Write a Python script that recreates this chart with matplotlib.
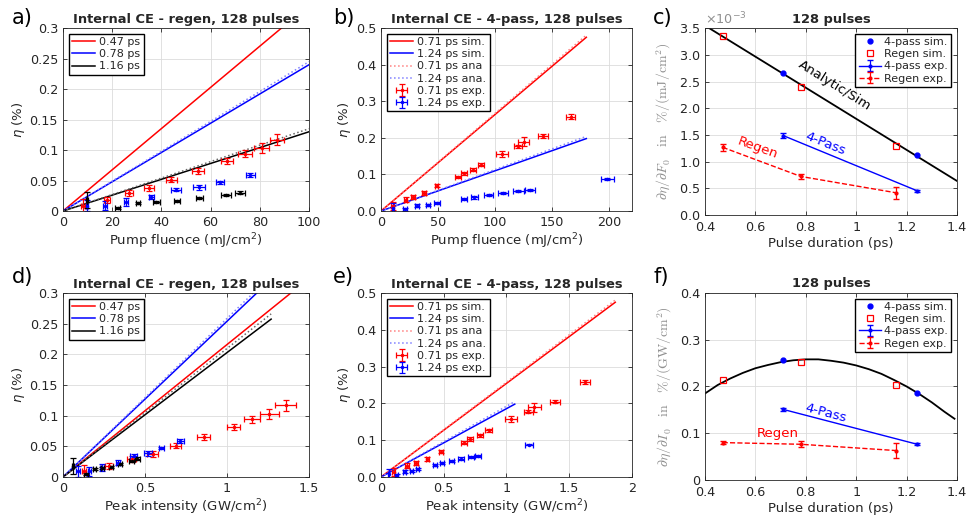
import matplotlib.pyplot as plt

# ---------------- a) regen, efficiency vs pump fluence
a_fit_x = [0, 100]
a_sim_047 = [0, 0.338]
a_sim_078 = [0, 0.240]
a_ana_078 = [0, 0.245]
a_sim_116 = [0, 0.130]
a_ana_116 = [0, 0.135]

a_red_x = [8.2, 18, 26.8, 35, 44, 55, 66.7, 73.9, 80.7, 87]
a_red_y = [0.009, 0.018, 0.030, 0.038, 0.051, 0.065, 0.082, 0.094, 0.103, 0.117]
a_red_xe = [0.8, 1.2, 1.5, 2.0, 2.2, 2.5, 2.5, 2.8, 3.0, 3.0]
a_red_ye = [0.010, 0.005, 0.005, 0.005, 0.004, 0.005, 0.005, 0.006, 0.008, 0.009]
a_blue_x = [9.8, 17, 25.6, 35.8, 45.9, 55.4, 63.8, 76.2]
a_blue_y = [0.009, 0.009, 0.015, 0.023, 0.035, 0.039, 0.047, 0.059]
a_blue_xe = [0.5, 0.7, 1.0, 1.0, 2.0, 2.5, 1.5, 2.0]
a_blue_ye = [0.009, 0.008, 0.006, 0.004, 0.003, 0.004, 0.002, 0.003]
a_black_x = [9.8, 22.3, 30.5, 38, 46.3, 55.4, 66.3, 71.8]
a_black_y = [0.018, 0.005, 0.013, 0.015, 0.016, 0.021, 0.026, 0.030]
a_black_xe = [0.5, 1.0, 1.0, 1.5, 1.2, 1.5, 2.0, 2.0]
a_black_ye = [0.013, 0.002, 0.002, 0.002, 0.002, 0.002, 0.002, 0.002]

# ---------------- b) 4-pass, efficiency vs pump fluence
b_fit_x = [0, 180]
b_sim_071 = [0, 0.475]
b_ana_071 = [0, 0.481]
b_sim_124 = [0, 0.198]
b_ana_124 = [0, 0.204]

b_red_x = [10.2, 21.5, 28.2, 37.8, 48.9, 67.8, 72.8, 80.6, 87.6, 106, 120, 125, 142, 166.5]
b_red_y = [0.014, 0.031, 0.038, 0.049, 0.069, 0.093, 0.103, 0.113, 0.127,
           0.157, 0.177, 0.190, 0.205, 0.258]
b_red_xe = [1, 1.5, 1.5, 1.5, 1.5, 2.5, 2.5, 2.5, 2.5, 5, 3.5, 5, 4, 4]
b_red_ye = [0.010, 0.007, 0.006, 0.005, 0.004, 0.004, 0.005, 0.004, 0.004,
            0.008, 0.004, 0.012, 0.005, 0.006]
b_blue_x = [10.2, 21, 31.7, 41.3, 49.2, 72.8, 81.8, 94.6, 107, 120.5, 130.4, 198.5]
b_blue_y = [0.009, 0.005, 0.014, 0.016, 0.021, 0.032, 0.037, 0.044, 0.050, 0.054, 0.057, 0.088]
b_blue_xe = [0.8, 1.5, 2, 2, 2.5, 3, 3, 4, 4, 4.5, 4.5, 6]
b_blue_ye = [0.012, 0.004, 0.004, 0.003, 0.003, 0.003, 0.003, 0.003, 0.003, 0.003, 0.003, 0.002]

# ---------------- d) regen, efficiency vs peak intensity
d_fit_x = [0, 1.5]
d_sim_047 = [0, 0.324]
d_sim_078 = [0, 0.381]
d_ana_078 = [0, 0.388]
d_fit_x116 = [0, 1.269]
d_sim_116 = [0, 0.2575]
d_ana_116 = [0, 0.266]

d_red_x = [0.128, 0.281, 0.418, 0.546, 0.686, 0.858, 1.04, 1.153, 1.259, 1.357]
d_red_xe = [0.015, 0.025, 0.03, 0.035, 0.035, 0.04, 0.04, 0.05, 0.06, 0.065]
d_blue_x = [0.092, 0.16, 0.24, 0.337, 0.43, 0.52, 0.60, 0.716]
d_blue_xe = [0.01, 0.01, 0.012, 0.012, 0.02, 0.025, 0.015, 0.02]
d_black_x = [0.062, 0.141, 0.193, 0.240, 0.293, 0.350, 0.419, 0.454]
d_black_xe = [0.005, 0.01, 0.01, 0.01, 0.01, 0.012, 0.015, 0.015]

# ---------------- e) 4-pass, efficiency vs peak intensity
e_fit_x071 = [0, 1.867]
e_fit_x124 = [0, 1.066]
e_sim_071 = [0, 0.475]
e_ana_071 = [0, 0.481]
e_sim_124 = [0, 0.198]
e_ana_124 = [0, 0.205]

e_red_x = [0.100, 0.21, 0.276, 0.37, 0.478, 0.663, 0.712, 0.788, 0.857,
           1.037, 1.174, 1.222, 1.389, 1.629]
e_red_xe = [0.01, 0.015, 0.015, 0.015, 0.015, 0.025, 0.025, 0.025, 0.025,
            0.05, 0.035, 0.05, 0.04, 0.04]
e_blue_x = [0.061, 0.125, 0.188, 0.245, 0.292, 0.432, 0.486, 0.562, 0.636, 0.716, 0.775, 1.18]
e_blue_xe = [0.005, 0.01, 0.012, 0.012, 0.014, 0.018, 0.018, 0.022, 0.022, 0.025, 0.025, 0.03]

# ---------------- c) slope vs pulse duration (fluence)
c_ana_tau = [0.42, 0.91, 1.40]
c_ana = [3.49e-3, 2.065e-3, 0.64e-3]
sim4_tau = [0.71, 1.242]
c_sim4 = [2.656e-3, 1.12e-3]
simr_tau = [0.472, 0.781, 1.157]
c_simr = [3.36e-3, 2.39e-3, 1.30e-3]
exp4_tau = [0.71, 1.242]
c_exp4 = [1.49e-3, 0.456e-3]
c_exp4_err = [0.04e-3, 0.015e-3]
expr_tau = [0.47, 0.78, 1.157]
c_expr = [1.27e-3, 0.725e-3, 0.42e-3]
c_expr_err = [0.07e-3, 0.05e-3, 0.11e-3]

# ---------------- f) slope vs pulse duration (intensity)
f_ana_tau = [0.40, 0.45, 0.50, 0.55, 0.60, 0.65, 0.70, 0.75, 0.80, 0.85, 0.90,
             0.95, 1.00, 1.05, 1.10, 1.15, 1.20, 1.25, 1.30, 1.35, 1.39]
f_ana = [0.185, 0.203, 0.217, 0.229, 0.239, 0.246, 0.252, 0.256, 0.258, 0.258, 0.255,
         0.251, 0.245, 0.237, 0.227, 0.214, 0.200, 0.184, 0.166, 0.146, 0.131]
f_sim4 = [0.2557, 0.187]
f_simr = [0.214, 0.252, 0.203]
f_exp4 = [0.151, 0.0764]
f_exp4_err = [0.003, 0.002]
f_expr = [0.080, 0.0764, 0.063]
f_expr_err = [0.003, 0.006, 0.016]

DARK = "#262626"
plt.rcParams.update({
    "font.family": "DejaVu Sans",
    "font.size": 9.5,
    "axes.linewidth": 0.6,
    "axes.edgecolor": DARK,
    "axes.labelcolor": DARK,
    "text.color": DARK,
    "xtick.color": DARK,
    "ytick.color": DARK,
    "xtick.direction": "in",
    "ytick.direction": "in",
    "xtick.top": True,
    "ytick.right": True,
    "xtick.major.size": 3,
    "ytick.major.size": 3,
    "xtick.major.width": 0.6,
    "ytick.major.width": 0.6,
    "xtick.labelsize": 9.2,
    "ytick.labelsize": 9.2,
    "legend.fontsize": 8,
})

fig = plt.figure(figsize=(9.66, 5.21), dpi=100)

ax_a = fig.add_axes([0.0652, 0.595, 0.2547, 0.351])
ax_b = fig.add_axes([0.3944, 0.595, 0.2598, 0.351])
ax_c = fig.add_axes([0.7298, 0.587, 0.2609, 0.359])
ax_d = fig.add_axes([0.0652, 0.0845, 0.2547, 0.353])
ax_e = fig.add_axes([0.3944, 0.0845, 0.2598, 0.353])
ax_f = fig.add_axes([0.7298, 0.0787, 0.2609, 0.359])


def style(ax, title, xlabel, xlim, ylim, xticks, yticks):
    ax.set_title(title, fontsize=9.4, fontweight="bold", pad=4)
    ax.set_xlabel(xlabel, labelpad=2)
    ax.set_xlim(xlim)
    ax.set_ylim(ylim)
    ax.set_xticks(xticks)
    ax.set_yticks(yticks)
    ax.grid(True, color="#dcdcdc", linewidth=0.6)
    ax.set_axisbelow(True)


def exp(ax, x, y, xe, ye, color, label=None):
    return ax.errorbar(x, y, xerr=xe, yerr=ye, fmt=".", color=color, ms=3,
                       capsize=2, elinewidth=0.9, capthick=0.9, label=label)


leg_kw = dict(fancybox=False, edgecolor="black", framealpha=1, borderpad=0.3,
              labelspacing=0.2, handlelength=2.1, handletextpad=0.35)

# a)
ax_a.plot(a_fit_x, a_sim_047, color="red", lw=1.1, label="0.47 ps")
ax_a.plot(a_fit_x, a_sim_078, color="blue", lw=1.1, label="0.78 ps")
ax_a.plot(a_fit_x, a_sim_116, color="black", lw=1.1, label="1.16 ps")
ax_a.plot(a_fit_x, a_ana_078, color="#8080ff", lw=1.1, ls=":")
ax_a.plot(a_fit_x, a_ana_116, color="#666666", lw=1.1, ls=":")
exp(ax_a, a_red_x, a_red_y, a_red_xe, a_red_ye, "red")
exp(ax_a, a_blue_x, a_blue_y, a_blue_xe, a_blue_ye, "blue")
exp(ax_a, a_black_x, a_black_y, a_black_xe, a_black_ye, "black")
style(ax_a, "Internal CE - regen, 128 pulses", "Pump fluence (mJ/cm$^2$)",
      (0, 100), (0, 0.3), [0, 20, 40, 60, 80, 100], [0, 0.05, 0.1, 0.15, 0.2, 0.25, 0.3])
ax_a.set_yticklabels(["0", "0.05", "0.1", "0.15", "0.2", "0.25", "0.3"])
ax_a.set_ylabel(r"$\eta$ (%)", labelpad=2)
ax_a.legend(loc="upper left", **leg_kw)

# b)
ax_b.plot(b_fit_x, b_sim_071, color="red", lw=1.1, label="0.71 ps sim.")
ax_b.plot(b_fit_x, b_sim_124, color="blue", lw=1.1, label="1.24 ps sim.")
ax_b.plot(b_fit_x, b_ana_071, color="#ff8080", lw=1.1, ls=":", label="0.71 ps ana")
ax_b.plot(b_fit_x, b_ana_124, color="#8080ff", lw=1.1, ls=":", label="1.24 ps ana.")
exp(ax_b, b_red_x, b_red_y, b_red_xe, b_red_ye, "red", "0.71 ps exp.")
exp(ax_b, b_blue_x, b_blue_y, b_blue_xe, b_blue_ye, "blue", "1.24 ps exp.")
style(ax_b, "Internal CE - 4-pass, 128 pulses", "Pump fluence (mJ/cm$^2$)",
      (0, 220), (0, 0.5), [0, 50, 100, 150, 200], [0, 0.1, 0.2, 0.3, 0.4, 0.5])
ax_b.set_ylabel(r"$\eta$ (%)", labelpad=2)
ax_b.legend(loc="upper left", **leg_kw)

# d)
ax_d.plot(d_fit_x, d_sim_047, color="red", lw=1.1, label="0.47 ps")
ax_d.plot(d_fit_x, d_sim_078, color="blue", lw=1.1, label="0.78 ps")
ax_d.plot(d_fit_x116, d_sim_116, color="black", lw=1.1, label="1.16 ps")
ax_d.plot(d_fit_x, d_ana_078, color="#8080ff", lw=1.1, ls=":")
ax_d.plot(d_fit_x116, d_ana_116, color="#666666", lw=1.1, ls=":")
exp(ax_d, d_red_x, a_red_y, d_red_xe, a_red_ye, "red")
exp(ax_d, d_blue_x, a_blue_y, d_blue_xe, a_blue_ye, "blue")
exp(ax_d, d_black_x, a_black_y, d_black_xe, a_black_ye, "black")
style(ax_d, "Internal CE - regen, 128 pulses", "Peak intensity (GW/cm$^2$)",
      (0, 1.5), (0, 0.3), [0, 0.5, 1, 1.5], [0, 0.05, 0.1, 0.15, 0.2, 0.25, 0.3])
ax_d.set_xticklabels(["0", "0.5", "1", "1.5"])
ax_d.set_yticklabels(["0", "0.05", "0.1", "0.15", "0.2", "0.25", "0.3"])
ax_d.set_ylabel(r"$\eta$ (%)", labelpad=2)
ax_d.legend(loc="upper left", **leg_kw)

# e)
ax_e.plot(e_fit_x071, e_sim_071, color="red", lw=1.1, label="0.71 ps sim.")
ax_e.plot(e_fit_x124, e_sim_124, color="blue", lw=1.1, label="1.24 ps sim.")
ax_e.plot(e_fit_x071, e_ana_071, color="#ff8080", lw=1.1, ls=":", label="0.71 ps ana")
ax_e.plot(e_fit_x124, e_ana_124, color="#8080ff", lw=1.1, ls=":", label="1.24 ps ana.")
exp(ax_e, e_red_x, b_red_y, e_red_xe, b_red_ye, "red", "0.71 ps exp.")
exp(ax_e, e_blue_x, b_blue_y, e_blue_xe, b_blue_ye, "blue", "1.24 ps exp.")
style(ax_e, "Internal CE - 4-pass, 128 pulses", "Peak intensity (GW/cm$^2$)",
      (0, 2), (0, 0.5), [0, 0.5, 1, 1.5, 2], [0, 0.1, 0.2, 0.3, 0.4, 0.5])
ax_e.set_xticklabels(["0", "0.5", "1", "1.5", "2"])
ax_e.set_ylabel(r"$\eta$ (%)", labelpad=2)
ax_e.legend(loc="upper left", **leg_kw)

# c) and f)
for ax, ana_tau, ana, sim4, simr, exp4, exp4_err, expr, expr_err in [
    (ax_c, c_ana_tau, c_ana, c_sim4, c_simr, c_exp4, c_exp4_err, c_expr, c_expr_err),
    (ax_f, f_ana_tau, f_ana, f_sim4, f_simr, f_exp4, f_exp4_err, f_expr, f_expr_err),
]:
    ax.plot(ana_tau, ana, color="black", lw=1.3)
    ax.plot(sim4_tau, sim4, "o", color="blue", ms=3.5, label="4-pass sim.")
    ax.plot(simr_tau, simr, "s", mfc="none", mec="red", ms=4, mew=0.9, label="Regen sim.")
    ax.errorbar(exp4_tau, exp4, yerr=exp4_err, fmt=".-", color="blue", ms=4, lw=1.0,
                capsize=2, elinewidth=0.9, label="4-pass exp.")
    ax.errorbar(expr_tau, expr, yerr=expr_err, fmt=".--", color="red", ms=4, lw=1.0,
                capsize=2, elinewidth=0.9, label="Regen exp.")
    ax.legend(loc="upper right", fancybox=False, edgecolor="black", framealpha=1,
              borderpad=0.3, labelspacing=0.2, handlelength=2.0, handletextpad=0.3)
    ax.tick_params(axis="x", pad=4.5)

style(ax_c, "128 pulses", "Pulse duration (ps)", (0.4, 1.4), (0, 3.5e-3),
      [0.4, 0.6, 0.8, 1.0, 1.2, 1.4],
      [0, 0.5e-3, 1e-3, 1.5e-3, 2e-3, 2.5e-3, 3e-3, 3.5e-3])
ax_c.set_xticklabels(["0.4", "0.6", "0.8", "1", "1.2", "1.4"])
ax_c.ticklabel_format(axis="y", style="sci", scilimits=(-3, -3), useMathText=True)
ax_c.yaxis.get_offset_text().set_color("#909090")
ax_c.set_ylabel(r"$\partial\eta/\partial F_0\quad\mathrm{in}\quad \%/(\mathrm{mJ/cm^2})$",
                color="#909090", math_fontfamily="cm", fontsize=10, labelpad=4)
ax_c.text(0.915, 2.42e-3, "Analytic/Sim", rotation=-32, ha="center", va="center",
          rotation_mode="anchor", fontsize=9.5, color="black")
ax_c.text(0.879, 1.33e-3, "4-Pass", rotation=-22, ha="center", va="center",
          rotation_mode="anchor", fontsize=9.5, color="blue")
ax_c.text(0.611, 1.25e-3, "Regen", rotation=-20, ha="center", va="center",
          rotation_mode="anchor", fontsize=9.5, color="red")

style(ax_f, "128 pulses", "Pulse duration (ps)", (0.4, 1.4), (0, 0.4),
      [0.4, 0.6, 0.8, 1.0, 1.2, 1.4], [0, 0.1, 0.2, 0.3, 0.4])
ax_f.set_xticklabels(["0.4", "0.6", "0.8", "1", "1.2", "1.4"])
ax_f.set_yticklabels(["0", "0.1", "0.2", "0.3", "0.4"])
ax_f.set_ylabel(r"$\partial\eta/\partial I_0\quad\mathrm{in}\quad \%/(\mathrm{GW/cm^2})$",
                color="#909090", math_fontfamily="cm", fontsize=10, labelpad=4)
ax_f.text(0.879, 0.144, "4-Pass", rotation=-15, ha="center", va="center",
          rotation_mode="anchor", fontsize=9.5, color="blue")
ax_f.text(0.688, 0.0986, "Regen", ha="center", va="center", fontsize=9.5, color="red")

# panel letters
for x, y, letter in [(0.012, 0.985, "a)"), (0.345, 0.985, "b)"), (0.676, 0.985, "c)"),
                     (0.012, 0.488, "d)"), (0.345, 0.488, "e)"), (0.676, 0.488, "f)")]:
    fig.text(x, y, letter, fontsize=15, va="top", ha="left", color="black")

fig.savefig("out.png", dpi=100)
